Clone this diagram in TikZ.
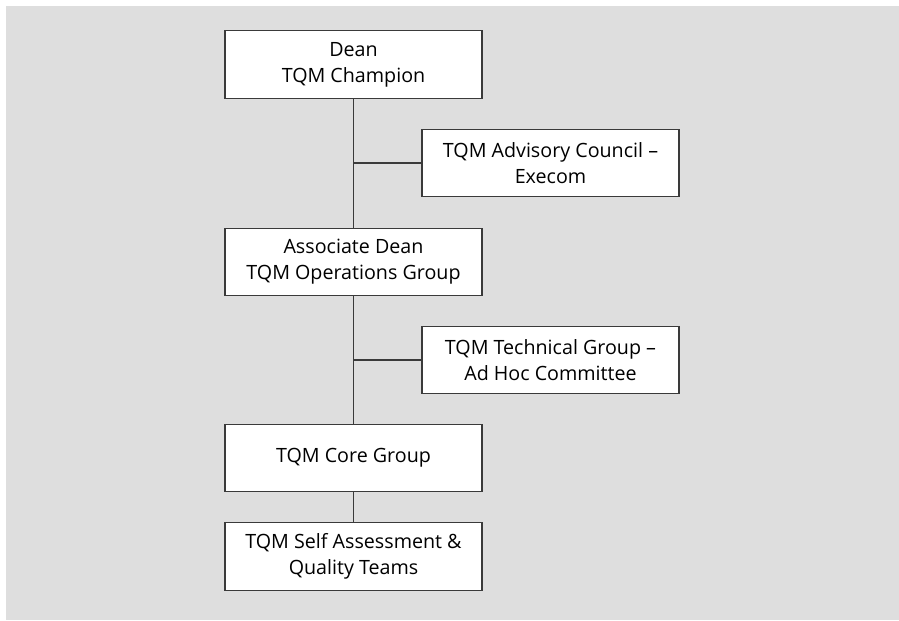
\documentclass[tikz,border=0pt]{standalone}
\usepackage{fontspec}
\setmainfont{Open Sans}
\usepackage{xcolor}
\usetikzlibrary{positioning}

\definecolor{panelgray}{HTML}{DEDEDE}
\definecolor{linegray}{HTML}{3A3A3A}

\tikzset{
  unit/.style={draw=linegray, line width=0.6pt, fill=white, align=center,
    minimum width=5.14cm, minimum height=1.35cm, inner sep=0pt,
    font=\fontsize{11.2}{14.8}\selectfont},
  link/.style={draw=linegray, line width=0.6pt}
}

\begin{document}
\begin{tikzpicture}
\useasboundingbox (0,0) rectangle (17.98,12.4);
\fill[panelgray] (0.12,0) rectangle (17.98,12.28);

% main chain
\node[unit] (dean) at (7.07,11.11) {Dean\\TQM Champion};
\node[unit] (assoc) at (7.07,7.16) {Associate Dean\\TQM Operations Group};
\node[unit] (core) at (7.07,3.24) {TQM Core Group};
\node[unit] (self) at (7.07,1.27) {TQM Self Assessment \&\\Quality Teams};

% side units
\node[unit] (advisory) at (11.01,9.14) {TQM Advisory Council --\\Execom};
\node[unit] (technical) at (11.01,5.2) {TQM Technical Group --\\Ad Hoc Committee};

\draw[link] (dean) -- (assoc);
\draw[link] (assoc) -- (core);
\draw[link] (core) -- (self);
\draw[link] (advisory.west) -- (advisory.west -| dean.south);
\draw[link] (technical.west) -- (technical.west -| assoc.south);
\end{tikzpicture}
\end{document}
